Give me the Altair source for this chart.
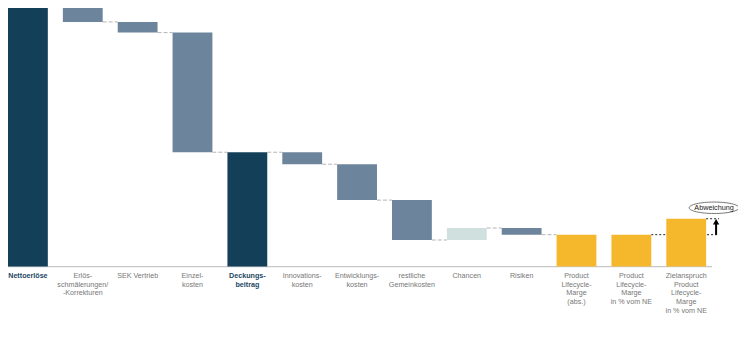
import altair as alt
import pandas as pd

# ---------------- data ----------------
categories = [
    "Nettoerlöse",
    "Erlös-|schmälerungen/|-Korrekturen",
    "SEK Vertrieb",
    "Einzel-|kosten",
    "Deckungs-|beitrag",
    "Innovations-|kosten",
    "Entwicklungs-|kosten",
    "restliche|Gemeinkosten",
    "Chancen",
    "Risiken",
    "Product|Lifecycle-|Marge|(abs.)",
    "Product|Lifecycle-|Marge|in % vom NE",
    "Zielanspruch|Product|Lifecycle-|Marge|in % vom NE",
]
amounts = [100, -8, -4, -45, None, -4.5, -13.5, -15, 4.5, -2.5, None, None, 18]
kinds = ["total", "delta", "delta", "delta", "subtotal", "delta", "delta", "delta",
         "chance", "delta", "result", "result", "target"]
note = ["Abweichung"]

# running totals for the waterfall
starts, ends = [], []
run = 0.0
for a, k in zip(amounts, kinds):
    if k == "total":
        s, e = 0.0, a
        run = a
    elif k in ("subtotal", "result"):
        s, e = 0.0, run
    elif k == "target":
        s, e = 0.0, a
    else:
        s, e = run, run + a
        run = e
    starts.append(s)
    ends.append(e)

bars = pd.DataFrame({"cat": categories, "start": starts, "end": ends, "kind": kinds})
conn = pd.DataFrame({"cat": categories[:10], "next": categories[1:11], "level": ends[:10]})
gap = pd.DataFrame({"cat": [categories[11]], "last": [categories[12]], "level": [ends[11]]})
ziel = pd.DataFrame({"cat": [categories[12]], "lo": [ends[11]], "hi": [ends[12]], "note": note})
base = pd.DataFrame({"z": [0]})

# ---------------- styling ----------------
FONT = "Liberation Sans"
bold_test = "datum.value == 'Nettoerlöse' || datum.value == 'Deckungs-|beitrag'"

xscale = alt.Scale(domain=categories, paddingInner=0.274, paddingOuter=0)
yscale = alt.Scale(domain=[0, 97], nice=False, zero=True)
xaxis = alt.Axis(
    title=None, labelAngle=0, labelExpr="split(datum.value, '|')",
    labelFont=FONT, labelFontSize=7.2, labelLineHeight=8.7, labelBaseline="top",
    labelPadding=5, ticks=False, domain=False, grid=False, labelLimit=0,
    labelOverlap=False, labelAlign="center",
    labelColor={"condition": {"test": bold_test, "value": "#1b4762"}, "value": "#777777"},
    labelFontWeight={"condition": {"test": bold_test, "value": "bold"}, "value": "normal"},
)

def X(field, band=0.5):
    return alt.X(f"{field}:N", scale=xscale, axis=xaxis, bandPosition=band)

def Y(field):
    return alt.Y(f"{field}:Q", scale=yscale, axis=None)

baseline = alt.Chart(base).mark_rule(color="#c8c8c8", strokeWidth=1.2).encode(
    y=Y("z"), x=alt.value(0), x2=alt.value(707)
)

connectors = alt.Chart(conn).mark_rule(color="#b4b4b4", strokeDash=[4, 2], strokeWidth=1).encode(
    x=X("cat", 1), x2=alt.X2("next:N", bandPosition=0), y=Y("level")
)

dotted_gap = alt.Chart(gap).mark_rule(color="#222", strokeDash=[2, 2], strokeWidth=1, x2Offset=13).encode(
    x=X("cat", 1), x2=alt.X2("last:N", bandPosition=1), y=Y("level")
)

bar_layer = alt.Chart(bars).mark_bar().encode(
    x=X("cat"),
    y=Y("start"),
    y2="end:Q",
    color=alt.Color(
        "kind:N",
        scale=alt.Scale(
            domain=["total", "subtotal", "delta", "chance", "result", "target"],
            range=["#143f58", "#143f58", "#6c849c", "#cfe0df", "#f5b82d", "#f5b82d"],
        ),
        legend=None,
    ),
)

dotted_top = alt.Chart(ziel).mark_rule(color="#222", strokeDash=[2, 2], strokeWidth=1, x2Offset=13).encode(
    x=X("cat", 1), x2=alt.X2("cat:N", bandPosition=1), y=Y("hi")
)

shaft = alt.Chart(ziel).mark_rule(color="black", strokeWidth=2, xOffset=10, y2Offset=5).encode(
    x=X("cat", 1), y=Y("lo"), y2="hi:Q"
)

head = alt.Chart(ziel).mark_point(shape="triangle-up", filled=True, color="black", opacity=1,
                                  size=40, xOffset=10, yOffset=3).encode(
    x=X("cat", 1), y=Y("hi")
)

ellipse_path = "M-1,0A1,0.23,0,1,1,1,0A1,0.23,0,1,1,-1,0Z"
ellipse = alt.Chart(ziel).mark_point(shape=ellipse_path, filled=False, stroke="#555",
                                     strokeWidth=0.8, opacity=1, size=2500,
                                     xOffset=8, yOffset=-11).encode(
    x=X("cat", 1), y=Y("hi")
)

label = alt.Chart(ziel).mark_text(font=FONT, fontSize=7.3, color="#222", xOffset=8, yOffset=-11,
                                  align="center", baseline="middle").encode(
    x=X("cat", 1), y=Y("hi"), text="note:N"
)

chart = alt.layer(
    baseline, connectors, dotted_gap, bar_layer, dotted_top, shaft, head, ellipse, label
).properties(
    width=701, height=259,
    autosize=alt.AutoSizeParams(type="none"),
    padding={"left": 0, "top": 0, "right": 32, "bottom": 60},
    background="white",
).configure_view(stroke=None)

chart.save("out.html", embed_options={"renderer": "svg", "actions": False})
